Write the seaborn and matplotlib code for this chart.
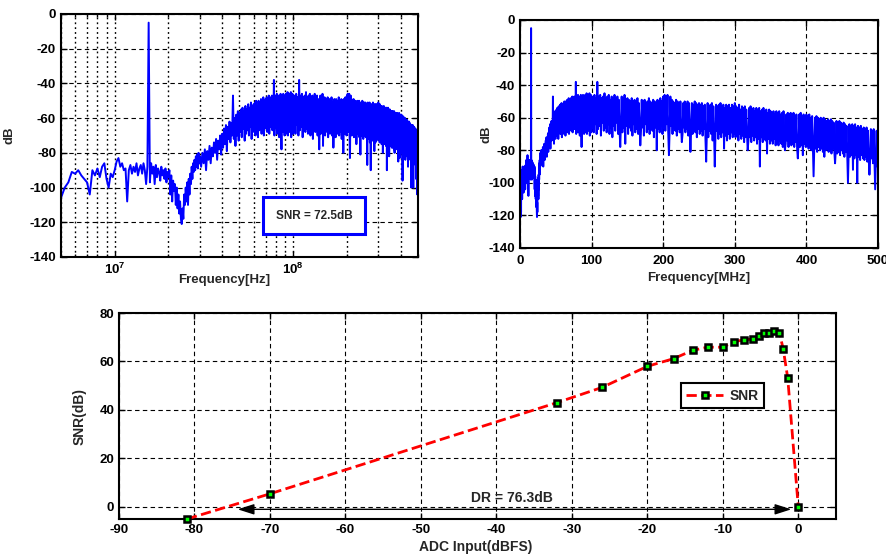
import numpy as np
import pandas as pd
import matplotlib
matplotlib.use("Agg")
import matplotlib.pyplot as plt
from matplotlib.patches import Rectangle
from matplotlib.ticker import FuncFormatter, NullFormatter, MultipleLocator, LogLocator
import seaborn as sns

# ---------------- output spectrum (dB) ----------------
# 0.25 MHz bins from 0.25 to 30 MHz
spec_db_0_10 = [
    -96, -114, -100, -121, -97, -118, -94, -108, -99, -104,
    -92, -110, -95, -101, -90, -105, -93, -98, -91, -106,
    -100, -97, -91, -92, -90, -93, -95, -97, -104, -90,
    -93, -89, -94, -88, -86, -95, -100, -92, -94, -90,
]
spec_db_10_20 = [
    -85, -83, -88, -86, -90, -89, -108, -90, -87, -92,
    -88, -91, -86, -93, -89, -87, -92, -86, -90, -98,
    -88, -5, -97, -86, -92, -88, -98, -87, -94, -89,
    -91, -96, -88, -93, -90, -95, -89, -97, -91, -94,
]
spec_db_20_30 = [
    -90, -104, -93, -108, -96, -102, -98, -110, -100, -112,
    -104, -115, -108, -118, -121, -112, -118, -104, -110, -100,
    -108, -97, -110, -95, -104, -92, -98, -88, -95, -86,
    -91, -84, -90, -82, -88, -81, -89, -80, -86, -82,
]
# 0.5 MHz bins from 30.5 to 100 MHz
spec_db_30_65 = [
    -88, -80, -86, -78, -90, -79, -84, -76, -86, -77,
    -82, -74, -80, -72, -84, -73, -78, -70, -81, -69,
    -77, -66, -75, -64, -79, -65, -72, -62, -74, -63,
    -70, -47, -72, -60, -76, -58, -70, -56, -73, -57,
    -68, -55, -71, -54, -66, -56, -73, -53, -69, -55,
    -67, -52, -70, -54, -65, -51, -72, -53, -68, -52,
    -66, -51, -70, -50, -64, -53, -71, -50, -67, -52,
]
spec_db_65_100 = [
    -65, -49, -69, -51, -63, -48, -70, -50, -66, -49,
    -64, -48, -68, -50, -62, -47, -69, -49, -65, -48,
    -63, -47, -67, -49, -62, -38, -70, -48, -64, -47,
    -66, -46, -69, -49, -63, -47, -71, -48, -65, -46,
    -67, -78, -64, -48, -68, -46, -62, -49, -70, -47,
    -65, -46, -69, -48, -63, -45, -70, -47, -66, -46,
    -68, -47, -64, -45, -71, -48, -65, -46, -69, -47,
]
# 1 MHz bins from 101 to 500 MHz
spec_db_100_200 = [
    -66, -47, -69, -46, -64, -48, -70, -38, -67, -47,
    -65, -46, -71, -48, -63, -47, -68, -45, -66, -48,
    -69, -47, -64, -46, -70, -49, -66, -47, -72, -48,
    -65, -46, -68, -48, -63, -47, -70, -49, -67, -78,
    -64, -47, -69, -48, -66, -46, -76, -49, -65, -48,
    -70, -49, -66, -50, -68, -48, -71, -50, -64, -49,
    -69, -50, -67, -48, -70, -51, -65, -77, -68, -49,
    -66, -50, -71, -49, -64, -51, -69, -50, -67, -48,
    -70, -50, -65, -51, -68, -49, -72, -50, -66, -51,
    -80, -49, -67, -50, -69, -48, -65, -50, -70, -47,
]
spec_db_200_300 = [
    -66, -46, -68, -47, -64, -46, -69, -83, -67, -47,
    -65, -49, -70, -50, -66, -51, -68, -49, -71, -50,
    -67, -51, -69, -50, -65, -75, -70, -51, -66, -50,
    -69, -52, -67, -50, -71, -51, -66, -81, -68, -51,
    -70, -52, -66, -50, -69, -51, -72, -52, -67, -51,
    -70, -52, -68, -51, -71, -53, -67, -52, -73, -87,
    -69, -51, -72, -53, -68, -52, -70, -51, -74, -53,
    -69, -90, -71, -52, -68, -53, -73, -52, -70, -51,
    -72, -53, -69, -52, -79, -54, -71, -52, -74, -53,
    -70, -52, -73, -54, -69, -52, -72, -53, -70, -51,
]
spec_db_300_400 = [
    -72, -53, -71, -54, -74, -52, -70, -55, -73, -53,
    -71, -54, -75, -53, -72, -55, -70, -80, -74, -54,
    -72, -53, -75, -55, -71, -54, -74, -56, -72, -54,
    -76, -55, -73, -54, -90, -56, -72, -55, -75, -54,
    -73, -56, -74, -55, -82, -57, -73, -55, -76, -56,
    -74, -57, -76, -56, -73, -58, -77, -56, -75, -57,
    -77, -56, -74, -58, -76, -57, -78, -56, -75, -80,
    -76, -58, -74, -57, -78, -58, -75, -57, -77, -58,
    -76, -57, -78, -59, -75, -58, -79, -85, -76, -58,
    -78, -57, -77, -59, -83, -58, -76, -59, -78, -58,
]
spec_db_400_500 = [
    -77, -59, -79, -58, -76, -60, -80, -59, -78, -96,
    -77, -60, -79, -59, -81, -60, -78, -61, -80, -60,
    -79, -61, -81, -60, -84, -61, -80, -62, -79, -61,
    -81, -62, -80, -61, -82, -62, -79, -63, -81, -88,
    -80, -62, -82, -63, -81, -62, -83, -63, -80, -64,
    -82, -63, -84, -64, -81, -65, -83, -100, -82, -64,
    -84, -65, -83, -64, -92, -65, -85, -64, -83, -66,
    -100, -65, -84, -66, -86, -65, -83, -67, -85, -66,
    -86, -67, -84, -66, -87, -68, -85, -95, -86, -67,
    -85, -68, -88, -67, -86, -104, -87, -68, -90, -85,
]

# ---------------- SNR versus input level ----------------
adc_input_dbfs = [-81, -70, -32, -26, -20, -16.5, -14, -12, -10, -8.5,
                  -7.2, -6, -5.2, -4.5, -3.9, -3.2, -2.5, -2, -1.4, 0]
snr_db = [-5, 5.4, 43, 49.3, 58, 61.2, 64.6, 65.9, 65.9, 68.2,
          68.9, 69.3, 70.7, 71.8, 71.8, 72.5, 71.8, 65.2, 53.2, 0]
snr_text = "SNR = 72.5dB"
dynamic_range_db = 76.3

# ---------------- assemble spectrum table ----------------
freq_mhz = np.concatenate([
    np.arange(1, 121) * 0.25,          # 0.25 ... 30 MHz
    30 + np.arange(1, 141) * 0.5,      # 30.5 ... 100 MHz
    np.arange(101, 501, dtype=float),  # 101 ... 500 MHz
])
spec_db = np.array(spec_db_0_10 + spec_db_10_20 + spec_db_20_30
                   + spec_db_30_65 + spec_db_65_100
                   + spec_db_100_200 + spec_db_200_300
                   + spec_db_300_400 + spec_db_400_500, dtype=float)
spectrum = pd.DataFrame({"f_mhz": freq_mhz, "f_hz": freq_mhz * 1e6, "db": spec_db})
snr_df = pd.DataFrame({"adc": adc_input_dbfs, "snr": snr_db})

# ---------------- style ----------------
sns.set_style("ticks")
plt.rcParams.update({
    "font.family": ["Liberation Sans", "DejaVu Sans"],
    "font.weight": "bold",
    "axes.labelweight": "bold",
    "axes.unicode_minus": False,
    "mathtext.fontset": "custom",
    "mathtext.rm": "Liberation Sans:bold",
    "mathtext.bf": "Liberation Sans:bold",
    "mathtext.it": "Liberation Sans:bold",
    "axes.edgecolor": "black",
    "axes.linewidth": 1.5,
    "xtick.color": "black",
    "ytick.color": "black",
    "axes.axisbelow": True,
})

TICK_FS = 9.5
BLUE = "#0000ff"

fig = plt.figure(figsize=(8.86, 5.57), dpi=100, facecolor="white")
ax1 = fig.add_axes([0.0688, 0.5386, 0.4029, 0.4363])
ax2 = fig.add_axes([0.5869, 0.5548, 0.4041, 0.4093])
ax3 = fig.add_axes([0.1343, 0.0682, 0.8093, 0.3698])

dash_grid = dict(color="black", linewidth=0.8, linestyle=(0, (4, 3)))
dot_grid = dict(color="black", linewidth=1.0, linestyle=(0, (1.3, 2.2)))


def frame(ax):
    for s in ax.spines.values():
        s.set_linewidth(1.5)
        s.set_color("black")
    ax.tick_params(which="both", direction="in", top=True, right=True,
                   width=1.0, labelsize=TICK_FS, colors="black")
    ax.tick_params(which="major", length=4)
    ax.tick_params(which="minor", length=2.5)
    for lab in ax.get_xticklabels() + ax.get_yticklabels():
        lab.set_fontweight("bold")


# ---- top left: spectrum on log frequency axis ----
sns.lineplot(data=spectrum, x="f_hz", y="db", ax=ax1, color=BLUE, linewidth=1.4,
             estimator=None, sort=False)
ax1.set_xscale("log")
ax1.set_xlim(5e6, 5e8)
ax1.set_ylim(-140, 0)
ax1.yaxis.set_major_locator(MultipleLocator(20))
ax1.xaxis.set_major_locator(LogLocator(base=10))
ax1.xaxis.set_minor_locator(LogLocator(base=10, subs=np.arange(2, 10)))
ax1.xaxis.set_major_formatter(FuncFormatter(lambda v, p: r"$\mathbf{10^{%d}}$" % round(np.log10(v))))
ax1.xaxis.set_minor_formatter(NullFormatter())
ax1.grid(True, axis="y", which="major", **dash_grid)
ax1.grid(True, axis="x", which="both", **dot_grid)
ax1.set_xlabel("Frequency[Hz]", fontsize=9.5, fontweight="bold")
ax1.set_ylabel("dB", fontsize=9.5, fontweight="bold")
ax1.xaxis.set_label_coords(0.457, -0.072)
ax1.yaxis.set_label_coords(-0.126, 0.5)
frame(ax1)
ax1.add_patch(Rectangle((0.567, 0.0926), 0.286, 0.1523, transform=ax1.transAxes,
                        facecolor="white", edgecolor=BLUE, linewidth=2.2, zorder=5))
ax1.text(0.7097, 0.1687, snr_text, transform=ax1.transAxes, ha="center", va="center",
         fontsize=8.5, fontweight="bold", zorder=6)

# ---- top right: spectrum on linear frequency axis ----
sns.lineplot(data=spectrum, x="f_mhz", y="db", ax=ax2, color=BLUE, linewidth=1.4,
             estimator=None, sort=False)
ax2.set_xlim(0, 500)
ax2.set_ylim(-140, 0)
ax2.xaxis.set_major_locator(MultipleLocator(100))
ax2.yaxis.set_major_locator(MultipleLocator(20))
ax2.grid(True, which="major", **dash_grid)
ax2.set_xlabel("Frequency[MHz]", fontsize=9.5, fontweight="bold")
ax2.set_ylabel("dB", fontsize=9.5, fontweight="bold")
ax2.xaxis.set_label_coords(0.5, -0.105)
ax2.yaxis.set_label_coords(-0.078, 0.5)
frame(ax2)
ax2.tick_params(axis="x", pad=5)

# ---- bottom: SNR versus input amplitude ----
sns.lineplot(data=snr_df, x="adc", y="snr", ax=ax3, color="red", linewidth=2.0,
             linestyle="--", marker="s", markersize=4.4, markerfacecolor="#00ff00",
             markeredgecolor="black", markeredgewidth=1.8, label="SNR",
             estimator=None, sort=False, clip_on=False, zorder=4)
ax3.set_xlim(-90, 5)
ax3.set_ylim(-5, 80)
ax3.xaxis.set_major_locator(MultipleLocator(10))
ax3.yaxis.set_major_locator(MultipleLocator(20))
ax3.grid(True, which="major", **dash_grid)
ax3.set_xlabel("ADC Input(dBFS)", fontsize=10, fontweight="bold")
ax3.set_ylabel("SNR(dB)", fontsize=10, fontweight="bold")
ax3.xaxis.set_label_coords(0.497, -0.1)
ax3.yaxis.set_label_coords(-0.045, 0.5)
frame(ax3)

leg = ax3.legend(loc="upper left", bbox_to_anchor=(0.774, 0.694), frameon=True,
                 fancybox=False, edgecolor="black", framealpha=1,
                 handlelength=2.6, handletextpad=0.5, borderpad=0.4,
                 prop={"weight": "bold", "size": 10})
leg.get_frame().set_linewidth(1.5)

# dynamic range arrow spanning the usable input range
ax3.annotate("", xy=(0, -1), xytext=(-dynamic_range_db, -1),
             arrowprops=dict(arrowstyle="<|-|>,head_length=1.0,head_width=0.32",
                             color="black", lw=1.0, shrinkA=11, shrinkB=5),
             zorder=3)
ax3.text(-38, 3.5, "DR = %.1fdB" % dynamic_range_db, ha="center", va="center",
         fontsize=10, fontweight="bold")

fig.savefig("out.png", dpi=100, facecolor="white")
